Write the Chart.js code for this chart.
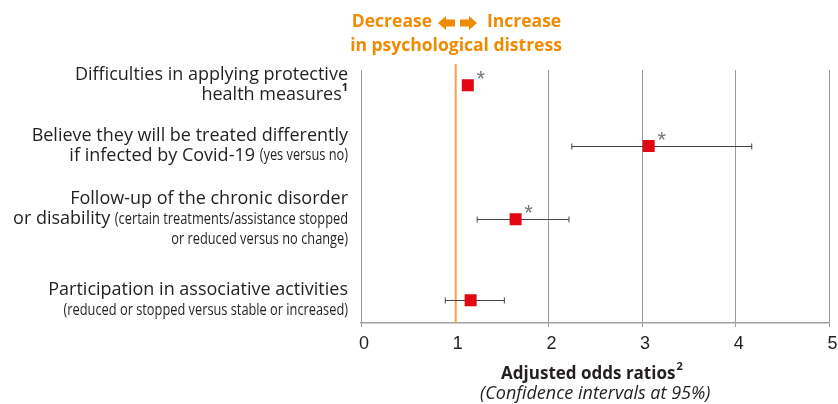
<!DOCTYPE html>
<html>
<head>
<meta charset="utf-8">
<script src="https://cdn.jsdelivr.net/npm/chart.js@4/dist/chart.umd.min.js"></script>
<style>
  html, body { margin: 0; padding: 0; background: #fff; }
  #wrap { width: 838px; height: 404px; position: relative; }
</style>
</head>
<body>
<div id="wrap"><canvas id="forestChart"></canvas></div>
<script>
// Adjusted odds ratios and 95% confidence intervals
const oddsRatios = [1.14, 3.07, 1.65, 1.17];
const ciLow = [1.10, 2.25, 1.24, 0.90];
const ciHigh = [1.19, 4.17, 2.22, 1.53];
const significant = [true, true, true, false];
const xTicks = [0, 1, 2, 3, 4, 5];

// rows are not evenly spaced in the original, position on a 0..10 axis
const rowY = [0.6, 3.0, 5.9, 9.1];

// each label line is a list of [text, style] pieces
const rowLabels = [
  [
    [['Difficulties in applying protective', 'main']],
    [['health measures', 'main'], ['1', 'sup']]
  ],
  [
    [['Believe they will be treated differently', 'main']],
    [['if infected by Covid-19 ', 'main'], ['(yes versus no)', 'small']]
  ],
  [
    [['Follow-up of the chronic disorder', 'main']],
    [['or disability ', 'main'], ['(certain treatments/assistance stopped', 'small']],
    [['or reduced versus no change)', 'small']]
  ],
  [
    [['Participation in associative activities', 'main']],
    [['(reduced or stopped versus stable or increased)', 'small']]
  ]
];

const ORANGE = '#F08A00';
const fonts = {
  main: '18px "Open Sans", sans-serif',
  small: '16px "Open Sans", sans-serif',
  sup: 'bold 11px "Open Sans", sans-serif'
};
// the small notes are set in a condensed face, squeeze them
const squeeze = { main: 1, small: 0.8, sup: 1 };

const pts = oddsRatios.map((v, i) => ({ x: v, y: rowY[i] }));

const forestExtras = {
  id: 'forestExtras',
  beforeDatasetsDraw(chart) {
    const ctx = chart.ctx;
    const xs = chart.scales.x, ys = chart.scales.y;
    const area = chart.chartArea;
    ctx.save();
    // reference line at OR = 1
    const x1 = xs.getPixelForValue(1);
    ctx.strokeStyle = '#F5A245';
    ctx.lineWidth = 2;
    ctx.beginPath();
    ctx.moveTo(x1 + 1, 64);
    ctx.lineTo(x1 + 1, area.bottom);
    ctx.stroke();
    // confidence intervals
    ctx.strokeStyle = '#444';
    ctx.lineWidth = 1;
    oddsRatios.forEach((v, i) => {
      const y = Math.round(ys.getPixelForValue(rowY[i])) + 0.5;
      const a = xs.getPixelForValue(ciLow[i]);
      const b = xs.getPixelForValue(ciHigh[i]);
      ctx.beginPath();
      ctx.moveTo(a, y); ctx.lineTo(b, y);
      ctx.moveTo(a, y - 3); ctx.lineTo(a, y + 3);
      ctx.moveTo(b, y - 3); ctx.lineTo(b, y + 3);
      ctx.stroke();
    });
    ctx.restore();
  },
  afterDraw(chart) {
    const ctx = chart.ctx;
    const xs = chart.scales.x, ys = chart.scales.y;
    const area = chart.chartArea;
    ctx.save();
    ctx.textBaseline = 'middle';

    // significance stars
    ctx.fillStyle = '#777';
    ctx.font = '22px "Liberation Sans", sans-serif';
    ctx.textAlign = 'center';
    oddsRatios.forEach((v, i) => {
      if (!significant[i]) return;
      const x = xs.getPixelForValue(v);
      const y = ys.getPixelForValue(rowY[i]);
      ctx.fillText('*', x + 13, y - 5);
    });

    // row labels, right aligned
    const right = 348;
    ctx.fillStyle = '#231f20';
    ctx.textAlign = 'left';
    rowLabels.forEach((lines, i) => {
      const cy = ys.getPixelForValue(rowY[i]);
      lines.forEach((pieces, j) => {
        const ly = cy + (j - (lines.length - 1) / 2) * 20;
        let total = 0;
        pieces.forEach(p => {
          ctx.font = fonts[p[1]];
          total += ctx.measureText(p[0]).width * squeeze[p[1]];
        });
        let x = right - total;
        pieces.forEach(p => {
          ctx.font = fonts[p[1]];
          const k = squeeze[p[1]];
          ctx.save();
          ctx.translate(x, p[1] === 'sup' ? ly - 7 : ly);
          ctx.scale(k, 1);
          ctx.fillText(p[0], 0, 0);
          ctx.restore();
          x += ctx.measureText(p[0]).width * k;
        });
      });
    });

    // header
    ctx.fillStyle = ORANGE;
    ctx.font = 'bold 17.5px "Open Sans", sans-serif';
    ctx.textAlign = 'right';
    ctx.fillText('Decrease', 432, 22);
    ctx.textAlign = 'left';
    ctx.fillText('Increase', 487, 22);
    ctx.textAlign = 'center';
    ctx.fillText('in psychological distress', 456, 46);
    // arrows
    const ay = 23;
    ctx.beginPath();
    ctx.moveTo(438, ay);
    ctx.lineTo(446, ay - 7); ctx.lineTo(446, ay - 3.5); ctx.lineTo(455, ay - 3.5);
    ctx.lineTo(455, ay + 3.5); ctx.lineTo(446, ay + 3.5); ctx.lineTo(446, ay + 7);
    ctx.closePath();
    ctx.moveTo(477, ay);
    ctx.lineTo(469, ay - 7); ctx.lineTo(469, ay - 3.5); ctx.lineTo(460, ay - 3.5);
    ctx.lineTo(460, ay + 3.5); ctx.lineTo(469, ay + 3.5); ctx.lineTo(469, ay + 7);
    ctx.closePath();
    ctx.fill();

    // axis title
    const cx = (area.left + area.right) / 2;
    ctx.fillStyle = '#231f20';
    ctx.font = 'bold 17px "Open Sans", sans-serif';
    const t = 'Adjusted odds ratios';
    const tw = ctx.measureText(t).width;
    ctx.textAlign = 'left';
    const tx = cx - (tw + 8) / 2 - 3;
    ctx.fillText(t, tx, 374);
    ctx.font = 'bold 11px "Open Sans", sans-serif';
    ctx.fillText('2', tx + tw + 1, 367);
    ctx.textAlign = 'center';
    ctx.font = 'italic 18px "Open Sans", sans-serif';
    ctx.fillText('(Confidence intervals at 95%)', cx, 394);
    ctx.restore();
  }
};

const ctx = document.getElementById('forestChart').getContext('2d');
new Chart(ctx, {
  type: 'scatter',
  data: {
    datasets: [{
      label: 'Adjusted odds ratio',
      data: pts,
      pointStyle: 'rect',
      pointRadius: 8.5,
      pointHoverRadius: 8.5,
      backgroundColor: '#E30613',
      borderColor: '#E30613',
      borderWidth: 0
    }]
  },
  options: {
    responsive: true,
    maintainAspectRatio: false,
    animation: false,
    layout: { padding: { left: 361, right: 5, top: 70, bottom: 0 } },
    scales: {
      x: {
        type: 'linear',
        min: 0,
        max: 5,
        afterBuildTicks(scale) { scale.ticks = xTicks.map(v => ({ value: v })); },
        afterFit(scale) { scale.height = 81; scale.paddingLeft = 0; scale.paddingRight = 0; },
        ticks: {
          color: '#231f20',
          padding: 6,
          labelOffset: 3,
          font: { family: '"Liberation Sans", Arial, sans-serif', size: 18 }
        },
        grid: {
          // the orange reference line replaces the grid line at 1
          color: c => (c.tick && c.tick.value === 1 ? 'rgba(0,0,0,0)' : '#9a9a9a'),
          lineWidth: 1,
          tickLength: 4
        },
        border: { color: '#a0a0a0', width: 1.5 }
      },
      y: {
        type: 'linear',
        min: 0,
        max: 10,
        reverse: true,
        display: false
      }
    },
    plugins: {
      legend: { display: false },
      tooltip: { enabled: false }
    }
  },
  plugins: [forestExtras]
});
</script>
</body>
</html>
